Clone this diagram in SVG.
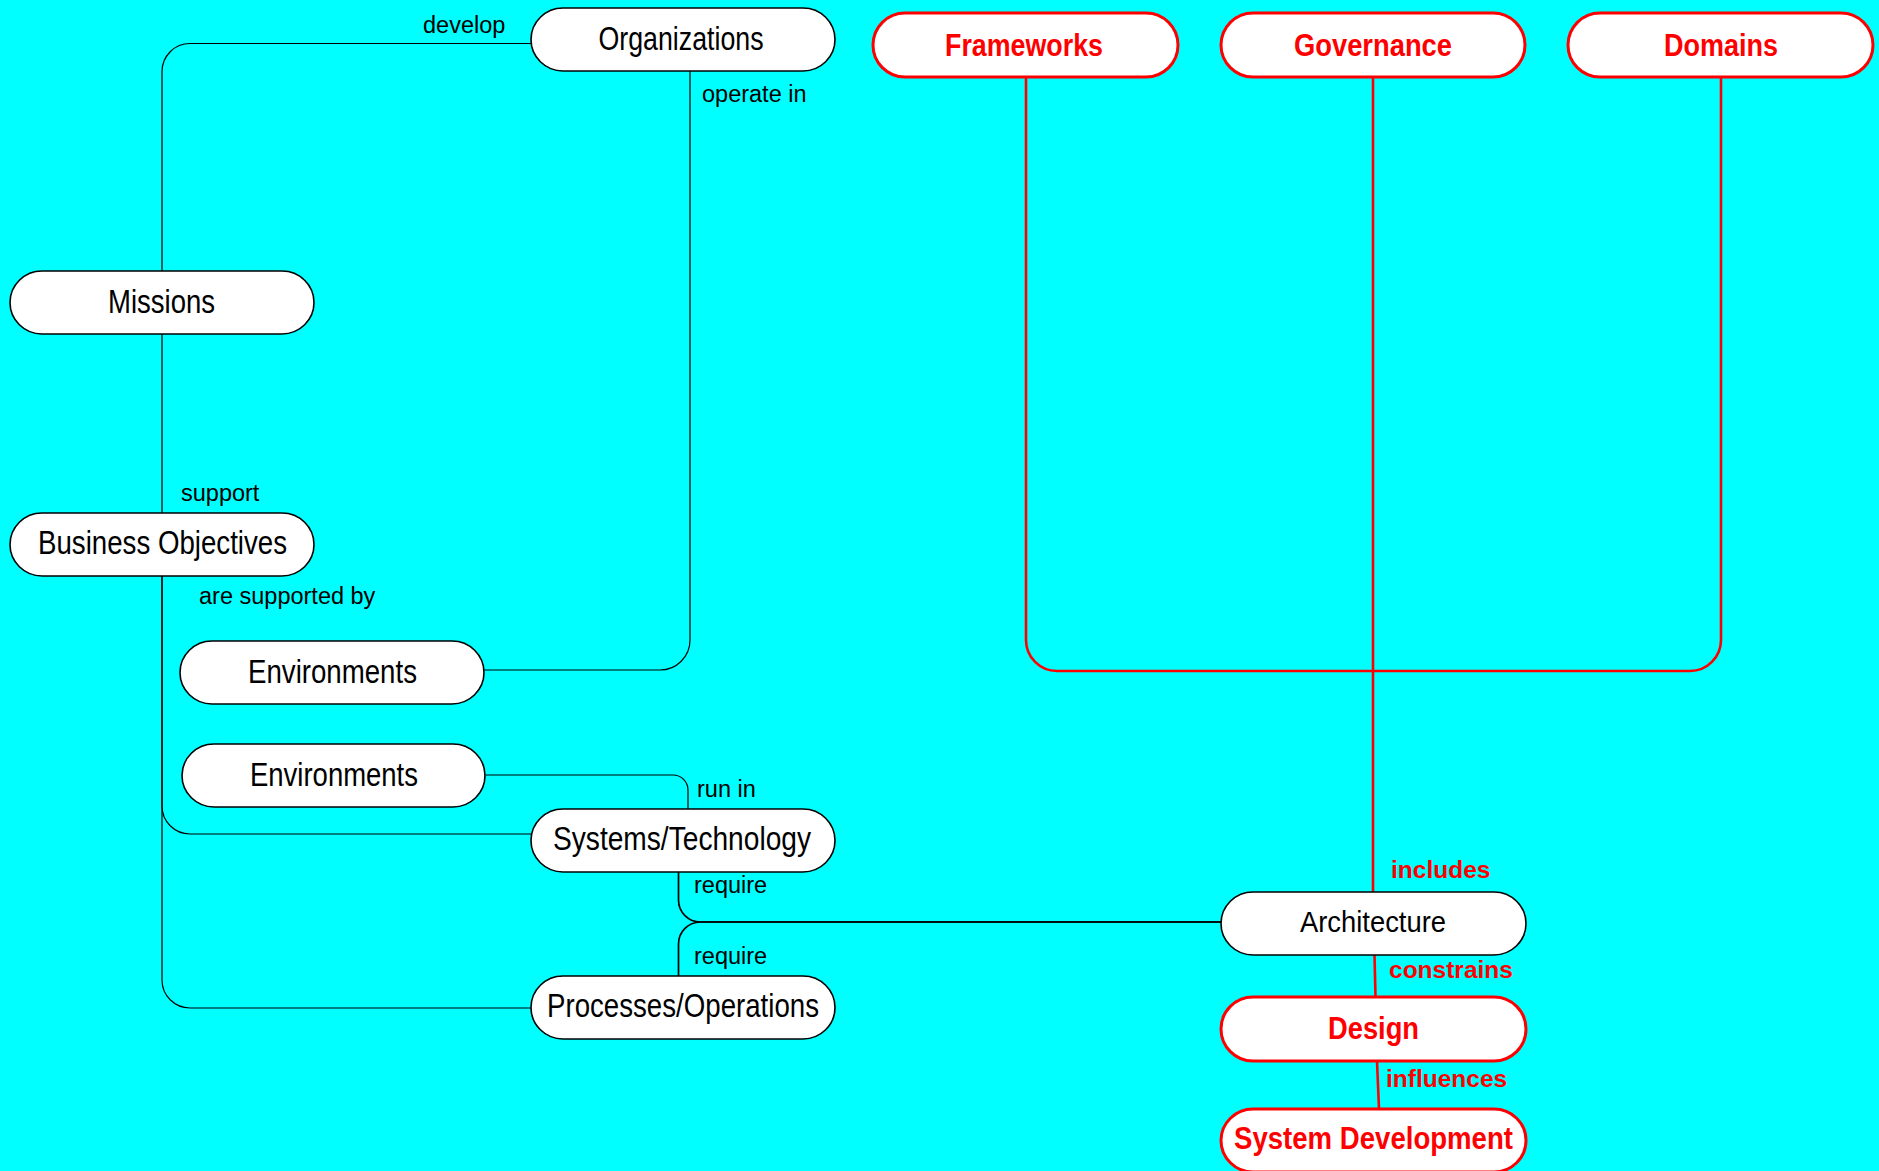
<svg xmlns="http://www.w3.org/2000/svg" width="1879" height="1171" viewBox="0 0 1879 1171">
  <style>
    .node rect { fill: #ffffff; stroke: #000000; stroke-width: 1.6; }
    .node.hot rect { stroke: #ff0000; stroke-width: 3; }
    .node text { font-family: "Liberation Sans", Arial, sans-serif; font-size: 33px; fill: #000000; text-anchor: middle; }
    .node.hot text { font-weight: bold; font-size: 31px; fill: #ff0000; }
    .node.arch text { font-size: 29px; }
    .link { fill: none; stroke: #000000; stroke-width: 1.2; }
    .link.thick { stroke-width: 1.7; }
    .link.hot { stroke: #ff0000; stroke-width: 2.6; }
    .lbl { font-family: "Liberation Sans", Arial, sans-serif; font-size: 23.5px; fill: #000000; }
    .lbl.hot { font-weight: bold; font-size: 24.5px; fill: #ff0000; }
  </style>

  <rect x="0" y="0" width="1879" height="1171" fill="#00ffff"/>

  <!-- connectors -->
  <g id="connectors">
    <path class="link" d="M531,43.5 H190 A28,28 0 0 0 162,71.5 V271"/>
    <path class="link" d="M162,334 V513"/>
    <path class="link" d="M162,576 V806 A28,28 0 0 0 190,834 H531"/>
    <path class="link" d="M162,576 V980 A28,28 0 0 0 190,1008 H531"/>
    <path class="link" d="M690,71 V640 A30,30 0 0 1 660,670 H484"/>
    <path class="link" d="M486,775 H673 A15,15 0 0 1 688,790 V809"/>
    <path class="link thick" d="M678.5,872 V900 A22,22 0 0 0 700.5,922 H1221"/>
    <path class="link thick" d="M678.5,976 V944 A22,22 0 0 1 700.5,922 H1221"/>
    <path class="link hot" d="M1026,77 V640 A31,31 0 0 0 1057,671 H1690 A31,31 0 0 0 1721,640 V77"/>
    <path class="link hot" d="M1373,77 V892"/>
    <path class="link hot" d="M1374.5,955 L1375.5,997"/>
    <path class="link hot" d="M1377,1061 L1379,1109"/>

    <text class="lbl" x="423" y="33">develop</text>
    <text class="lbl" x="702" y="102">operate in</text>
    <text class="lbl" x="181" y="501">support</text>
    <text class="lbl" x="199" y="604">are supported by</text>
    <text class="lbl" x="697" y="797">run in</text>
    <text class="lbl" x="694" y="893">require</text>
    <text class="lbl" x="694" y="964">require</text>
    <text class="lbl hot" x="1391" y="878">includes</text>
    <text class="lbl hot" x="1389" y="978">constrains</text>
    <text class="lbl hot" x="1386" y="1087">influences</text>
  </g>

  <!-- nodes -->
  <g id="organizations" class="node">
    <rect x="531" y="8" width="304" height="63" rx="32" ry="31.5"/>
    <text x="681" y="50" textLength="165" lengthAdjust="spacingAndGlyphs">Organizations</text>
  </g>
  <g id="missions" class="node">
    <rect x="10" y="271" width="304" height="63" rx="32" ry="31.5"/>
    <text x="161.5" y="313" textLength="107" lengthAdjust="spacingAndGlyphs">Missions</text>
  </g>
  <g id="business-objectives" class="node">
    <rect x="10" y="513" width="304" height="63" rx="32" ry="31.5"/>
    <text x="162.5" y="554" textLength="249" lengthAdjust="spacingAndGlyphs">Business Objectives</text>
  </g>
  <g id="environments-1" class="node">
    <rect x="180" y="641" width="304" height="63" rx="32" ry="31.5"/>
    <text x="332.5" y="683" textLength="169" lengthAdjust="spacingAndGlyphs">Environments</text>
  </g>
  <g id="environments-2" class="node">
    <rect x="182" y="744" width="303" height="63" rx="32" ry="31.5"/>
    <text x="334" y="786" textLength="168" lengthAdjust="spacingAndGlyphs">Environments</text>
  </g>
  <g id="systems-technology" class="node">
    <rect x="531" y="809" width="304" height="63" rx="32" ry="31.5"/>
    <text x="682" y="850" textLength="258" lengthAdjust="spacingAndGlyphs">Systems/Technology</text>
  </g>
  <g id="processes-operations" class="node">
    <rect x="531" y="976" width="304" height="63" rx="32" ry="31.5"/>
    <text x="683" y="1017" textLength="272" lengthAdjust="spacingAndGlyphs">Processes/Operations</text>
  </g>
  <g id="frameworks" class="node hot">
    <rect x="873" y="13" width="305" height="64" rx="32" ry="32"/>
    <text x="1024" y="55.5" textLength="158" lengthAdjust="spacingAndGlyphs">Frameworks</text>
  </g>
  <g id="governance" class="node hot">
    <rect x="1221" y="13" width="304" height="64" rx="32" ry="32"/>
    <text x="1373" y="55.5" textLength="158" lengthAdjust="spacingAndGlyphs">Governance</text>
  </g>
  <g id="domains" class="node hot">
    <rect x="1568" y="13" width="305" height="64" rx="32" ry="32"/>
    <text x="1721" y="55.5" textLength="114" lengthAdjust="spacingAndGlyphs">Domains</text>
  </g>
  <g id="architecture" class="node arch">
    <rect x="1221" y="892" width="305" height="63" rx="32" ry="31.5"/>
    <text x="1373" y="932" textLength="146" lengthAdjust="spacingAndGlyphs">Architecture</text>
  </g>
  <g id="design" class="node hot">
    <rect x="1221" y="997" width="305" height="64" rx="32" ry="32"/>
    <text x="1373.5" y="1038.5" textLength="91" lengthAdjust="spacingAndGlyphs">Design</text>
  </g>
  <g id="system-development" class="node hot">
    <rect x="1221" y="1109" width="305" height="63" rx="32" ry="31.5"/>
    <text x="1373.5" y="1148.5" textLength="279" lengthAdjust="spacingAndGlyphs">System Development</text>
  </g>
</svg>
